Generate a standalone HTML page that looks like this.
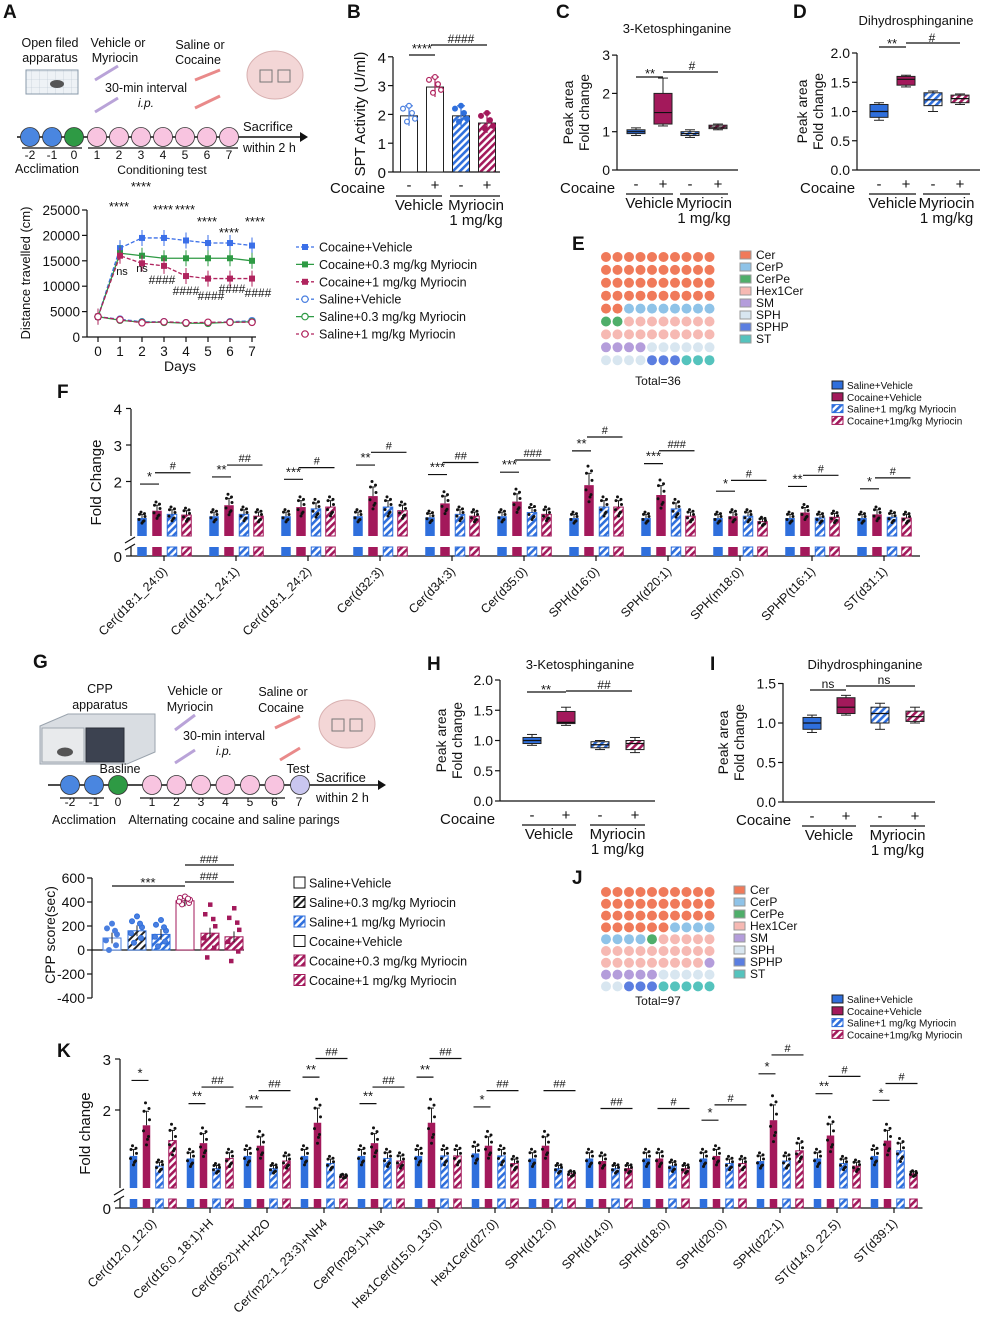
<!DOCTYPE html>
<html><head><meta charset="utf-8"><style>
html,body{margin:0;padding:0;background:#fff;}
svg{display:block;font-family:"Liberation Sans",Arial,sans-serif;}
</style></head><body>
<svg id="fig" width="982" height="1318" viewBox="0 0 982 1318" xmlns="http://www.w3.org/2000/svg">
<defs>
<pattern id="hb" patternUnits="userSpaceOnUse" width="5" height="5" patternTransform="rotate(45)"><rect width="5" height="5" fill="#fff"/><rect width="2.6" height="5" fill="#2f6fdc"/></pattern>
<pattern id="hr" patternUnits="userSpaceOnUse" width="5" height="5" patternTransform="rotate(45)"><rect width="5" height="5" fill="#fff"/><rect width="2.6" height="5" fill="#a3195b"/></pattern>
<pattern id="hk" patternUnits="userSpaceOnUse" width="5" height="5" patternTransform="rotate(45)"><rect width="5" height="5" fill="#fff"/><rect width="2" height="5" fill="#222"/></pattern>
<pattern id="grid" patternUnits="userSpaceOnUse" width="8" height="8"><rect width="8" height="8" fill="#eef2f6"/><path d="M8 0V8H0" fill="none" stroke="#b8c4d0" stroke-width="0.6"/></pattern>
</defs>
</svg>
<script>
const svg=document.getElementById('fig');
const NS='http://www.w3.org/2000/svg';
const BLUE='#2f6fdc',RED='#a3195b',GREEN='#2e9a44';
const FILLS=[BLUE,RED,'url(#hb)','url(#hr)'];
const STROKES=[BLUE,RED,BLUE,RED];

// ---------- data ----------
const aDays=[0,1,2,3,4,5,6,7];
const aCocVeh=[4000,17500,19500,19500,19000,18500,18500,18000];
const aCoc03=[4000,16500,16000,15500,15500,15500,15500,15000];
const aCoc1=[4000,16000,14500,14000,12000,11500,11500,11500];
const aSalVeh=[4000,3500,3000,3000,2800,2800,3000,3200];
const aSal03=[4000,3300,2900,2900,2700,2700,2900,3000];
const aSal1=[4000,3400,2800,3000,2800,2900,2900,2900];
const bVals=[1.95,2.95,1.95,1.7];
const cBox=[[0.95,1.0,1.05,0.9,1.1],[1.2,1.5,2.0,1.15,2.4],[0.9,0.95,1.0,0.85,1.05],[1.08,1.12,1.17,1.05,1.2]];
const dBox=[[0.9,1.0,1.12,0.85,1.15],[1.45,1.55,1.6,1.42,1.62],[1.1,1.2,1.32,1.0,1.35],[1.15,1.22,1.28,1.12,1.3]];
const hBox=[[0.95,1.0,1.05,0.92,1.1],[1.28,1.3,1.48,1.25,1.55],[0.88,0.93,0.98,0.85,1.0],[0.85,0.95,1.0,0.8,1.05]];
const iBox=[[0.92,1.0,1.07,0.88,1.1],[1.12,1.2,1.32,1.1,1.35],[1.0,1.12,1.2,0.92,1.25],[1.02,1.08,1.15,1.0,1.2]];
const eCounts=[42,8,2,18,4,10,3,3];
const jCounts=[36,8,1,24,6,7,3,5];
const lipidCats=['Cer','CerP','CerPe','Hex1Cer','SM','SPH','SPHP','ST'];
const lipidCols=['#f07a5a','#8fc3e8','#4fae6a','#f6b9b3','#b49ddb','#d8e6f0','#5b7ee0','#55c3bd'];
const fCats=['Cer(d18:1_24:0)','Cer(d18:1_24:1)','Cer(d18:1_24:2)','Cer(d32:3)','Cer(d34:3)','Cer(d35:0)','SPH(d16:0)','SPH(d20:1)','SPH(m18:0)','SPHP(t16:1)','ST(d31:1)'];
const fSalVeh=[1.0,1.05,1.05,1.05,1.02,1.05,1.0,1.0,1.0,1.0,1.0];
const fCocVeh=[1.2,1.35,1.3,1.6,1.4,1.45,1.9,1.63,1.05,1.15,1.1];
const fSal1=[1.1,1.1,1.25,1.3,1.1,1.15,1.3,1.25,1.05,1.0,1.02];
const fCoc1=[1.08,1.05,1.3,1.2,1.05,1.1,1.3,1.05,0.9,1.02,1.0];
const fStars=['*','**','***','**','***','***','**','***','*','**','*'];
const fHash=['#','##','#','#','##','###','#','###','#','#','#'];
const gVals=[100,160,130,410,140,110];
const kCats=['Cer(d12:0_12:0)','Cer(d16:0_18:1)+H','Cer(d36:2)+H-H2O','Cer(m22:1_23:3)+NH4','CerP(m29:1)+Na','Hex1Cer(d15:0_13:0)','Hex1Cer(d27:0)','SPH(d12:0)','SPH(d14:0)','SPH(d18:0)','SPH(d20:0)','SPH(d22:1)','ST(d14:0_22.5)','ST(d39:1)'];
const kSalVeh=[1.1,1.05,1.1,1.1,1.1,1.1,1.15,1.05,1.05,1.05,1.05,1.0,1.05,1.1];
const kCocVeh=[1.7,1.35,1.3,1.75,1.35,1.75,1.3,1.3,1.0,1.05,1.1,1.8,1.5,1.4];
const kSal1=[0.9,0.85,0.85,0.95,1.05,1.1,1.1,0.85,0.85,0.9,0.95,1.0,0.95,1.2];
const kCoc1=[1.4,1.05,1.0,0.7,1.0,1.1,0.95,0.75,0.85,0.85,0.95,1.2,0.9,0.75];
const kStars=['*','**','**','**','**','**','*','','','','*','*','**','*'];
const kHash=['','##','##','##','##','##','##','##','##','#','#','#','#','#'];

// ---------- helpers ----------
function mk(tag,attrs,name,parent){
  const e=document.createElementNS(NS,tag);
  for(const k in attrs)e.setAttribute(k,attrs[k]);
  
  
  (parent||svg).appendChild(e);return e;
}
function tx(x,y,s,size,name,anchor,extra){
  const a=Object.assign({x:x,y:y,'font-size':size,'text-anchor':anchor||'start',fill:'#111'},extra||{});
  const e=mk('text',a,name);e.textContent=s;return e;
}
function ln(x1,y1,x2,y2,name,c,w,extra){return mk('line',Object.assign({x1:x1,y1:y1,x2:x2,y2:y2,stroke:c||'#111','stroke-width':w||1.2},extra||{}),name);}
function rc(x,y,w,h,fill,name,stroke){return mk('rect',{x:x,y:y,width:w,height:h,fill:fill,stroke:stroke||'none','stroke-width':1},name);}
function ci(x,y,r,fill,name,stroke,sw){return mk('circle',{cx:x,cy:y,r:r,fill:fill,stroke:stroke||'none','stroke-width':sw||1},name);}
function letter(x,y,s){tx(x,y,s,19,'panel-label-'+s.toLowerCase(),'start',{'font-weight':'bold'});}
function rtext(x,y,s,size,name){tx(x,y,s,size,name,'end',{transform:'rotate(-45 '+x+' '+y+')'});}

// ---------- Panel A ----------
letter(3,18,'A');
tx(50,47,'Open filed',12.5,'a-open-field-label','middle');tx(50,62,'apparatus',12.5,'a-apparatus-label','middle');
rc(26,70,52,24,'url(#grid)','a-apparatus-box','#8899aa');
mk('ellipse',{cx:57,cy:84,rx:7,ry:4,fill:'#555'},'a-mouse');
tx(118,47,'Vehicle or',12.5,'a-vehicle-label','middle');tx(115,62,'Myriocin',12.5,'a-myriocin-label','middle');
tx(200,49,'Saline or',12.5,'a-saline-label','middle');tx(198,64,'Cocaine',12.5,'a-cocaine-label','middle');
tx(105,92,'30-min interval',12.5,'a-interval-label');tx(138,107,'i.p.',12,'a-ip-label','start',{'font-style':'italic'});
ln(95,80,118,66,'a-syringe-1','#b9a3d8',3);ln(95,112,118,98,'a-syringe-2','#b9a3d8',3);
ln(195,80,220,70,'a-syringe-3','#e98a8a',3);ln(195,108,220,96,'a-syringe-4','#e98a8a',3);
mk('ellipse',{cx:275,cy:75,rx:28,ry:24,fill:'#f3d6d6',stroke:'#d8b0b0'},'a-brain');
rc(260,70,12,12,'none','a-brain-roi-1','#777');rc(278,70,12,12,'none','a-brain-roi-2','#777');
ln(17,137,300,137,'a-timeline','#111',1.5);
mk('path',{d:'M300 132 L308 137 L300 142 Z',fill:'#111'},'a-timeline-arrow');
[30,52,74].forEach((x,i)=>ci(x,137,9.5,i<2?'#4a86e0':GREEN,'a-acclimation-day','#333',0.8));
for(let i=0;i<7;i++)ci(97+i*22,137,9.5,'#f8c4e0','a-conditioning-day','#333',0.8);
['-2','-1','0'].forEach((s,i)=>tx(30+i*22,159,s,12,'a-day-tick','middle'));
for(let i=0;i<7;i++)tx(97+i*22,159,String(i+1),12,'a-day-tick','middle');
ln(22,148,82,148,'a-acclimation-bracket');ln(88,148,238,148,'a-conditioning-bracket');
tx(47,173,'Acclimation',12.5,'a-acclimation-label','middle');tx(162,174,'Conditioning test',12,'a-conditioning-label','middle');
tx(243,131,'Sacrifice',13,'a-sacrifice-label');tx(243,152,'within 2 h',12.5,'a-within-label');

// A line chart
const aX=d=>98+d*22, aY=v=>337-v/25000*127;
ln(87,210,87,337,'a-y-axis');ln(87,337,256,337,'a-x-axis');
[0,5000,10000,15000,20000,25000].forEach(v=>{ln(82,aY(v),87,aY(v),'a-y-tick');tx(80,aY(v)+5,String(v),13.5,'a-y-tick-label','end');});
aDays.forEach(d=>{ln(aX(d),337,aX(d),342,'a-x-tick');tx(aX(d),356,String(d),13.5,'a-x-tick-label','middle');});
tx(180,371,'Days',14,'a-x-axis-title','middle');
tx(30,273,'Distance travelled (cm)',13,'a-y-axis-title','middle',{transform:'rotate(-90 30 273)'});
const aSeries=[[aCocVeh,'#3b6fe8','square',true],[aCoc03,GREEN,'square',false],[aCoc1,'#b0245e','square',true],[aSalVeh,'#4a7fe0','open',true],[aSal03,GREEN,'open',false],[aSal1,'#b0245e','open',true]];
aSeries.forEach((s,si)=>{
  const pts=aDays.map((d,i)=>aX(d)+','+aY(s[0][i])).join(' ');
  mk('polyline',{points:pts,fill:'none',stroke:s[1],'stroke-width':1.3,'stroke-dasharray':s[3]?'4,2':'none'},'a-series-line-'+si);
  aDays.forEach((d,i)=>{
    if(s[2]==='square'){ln(aX(d),aY(s[0][i])-8,aX(d),aY(s[0][i])+8,'a-error-bar',s[1],1);rc(aX(d)-3,aY(s[0][i])-3,6,6,s[1],'a-point');}
    else ci(aX(d),aY(s[0][i]),3.2,'#fff','a-point',s[1],1.2);
  });
});
[[119,211],[141,191],[163,214],[185,214],[207,226],[229,237],[255,226]].forEach(p=>tx(p[0],p[1],'****',13,'a-sig','middle'));
tx(122,275,'ns',11,'a-ns','middle');tx(142,272,'ns',11,'a-ns','middle');
[[162,284],[186,295],[211,300],[232,293],[258,297]].forEach(p=>tx(p[0],p[1],'####',12,'a-hash','middle'));
const aLeg=['Cocaine+Vehicle','Cocaine+0.3 mg/kg Myriocin','Cocaine+1 mg/kg Myriocin','Saline+Vehicle','Saline+0.3 mg/kg Myriocin','Saline+1 mg/kg Myriocin'];
aLeg.forEach((s,i)=>{const y=247+i*17.4,c=aSeries[i][1];
  ln(296,y,314,y,'a-legend-line',c,1.3,{'stroke-dasharray':aSeries[i][3]?'3,2':'none'});
  if(i<3)rc(302,y-3,6,6,c,'a-legend-marker');else ci(305,y,3.2,'#fff','a-legend-marker',c,1.2);
  tx(319,y+4.5,s,12.5,'a-legend-entry');});

// ---------- Panel B ----------
letter(347,18,'B');
const bY=v=>172-v*28.8;
ln(393,57,393,172,'b-y-axis');ln(393,172,500,172,'b-x-axis');
[0,1,2,3,4].forEach(v=>{ln(388,bY(v),393,bY(v),'b-y-tick');tx(386,bY(v)+6,String(v),15,'b-y-tick-label','end');});
tx(365,114,'SPT Activity (U/ml)',15,'b-y-axis-title','middle',{transform:'rotate(-90 365 114)'});
const bX=[409,435,461,487];
const bDotC=['#4a7fe0','#b0245e',BLUE,RED];
bVals.forEach((v,i)=>{
  rc(bX[i]-8.5,bY(v),17,172-bY(v),i<2?'#fff':FILLS[i],'b-bar','#222');
  ln(bX[i],bY(v)-10,bX[i],bY(v)+10,'b-error-bar',bDotC[i]);ln(bX[i]-4,bY(v)-10,bX[i]+4,bY(v)-10,'b-error-cap',bDotC[i]);
  [-6,-2,3,6,0].forEach((o,j)=>ci(bX[i]+o,bY(v+[0.25,-0.2,0.1,-0.1,0.35][j]),2.4,i<2?'#fff':bDotC[i],'b-dot',bDotC[i],1.2));
});
ln(409,55,435,55,'b-sig-line');tx(422,53,'****',13,'b-sig','middle');
ln(431,45,487,45,'b-hash-line');tx(461,43,'####',12,'b-hash','middle');
tx(330,193,'Cocaine',15,'b-cocaine-label');
bX.forEach((x,i)=>tx(x,190,i%2?'+':'-',15,'b-sign','middle'));
ln(396,196,442,196,'b-vehicle-bracket');ln(450,196,500,196,'b-myriocin-bracket');
tx(419,210,'Vehicle',15,'b-vehicle-label','middle');tx(476,210,'Myriocin',15,'b-myriocin-label','middle');tx(476,225,'1 mg/kg',15,'b-dose-label','middle');

// ---------- box plot panels ----------
function boxPanel(pre,ax,y0,yTop,ticks,unit,xs,data,tOff,tx0,ylab,fmt){
  const Y=v=>y0-v*unit;
  ln(ax,yTop,ax,y0,pre+'-y-axis');ln(ax,y0,xs[3]+20,y0,pre+'-x-axis');
  ticks.forEach(v=>{ln(ax-5,Y(v),ax,Y(v),pre+'-y-tick');tx(ax-7,Y(v)+5,fmt(v),14,pre+'-y-tick-label','end');});
  data.forEach((b,i)=>{
    ln(xs[i],Y(b[4]),xs[i],Y(b[3]),pre+'-whisker','#222',1);
    ln(xs[i]-5,Y(b[4]),xs[i]+5,Y(b[4]),pre+'-whisker-cap','#222',1);ln(xs[i]-5,Y(b[3]),xs[i]+5,Y(b[3]),pre+'-whisker-cap','#222',1);
    rc(xs[i]-9,Y(b[2]),18,Y(b[0])-Y(b[2]),FILLS[i],pre+'-box','#222');
    ln(xs[i]-9,Y(b[1]),xs[i]+9,Y(b[1]),pre+'-median','#111',1.2);
  });
  const my=(y0+yTop)/2;
  tx(ax-tOff,my,ylab[0],14,pre+'-y-axis-title','middle',{transform:'rotate(-90 '+(ax-tOff)+' '+my+')'});
  tx(ax-tOff+16,my,ylab[1],14,pre+'-y-axis-title-2','middle',{transform:'rotate(-90 '+(ax-tOff+16)+' '+my+')'});
  xs.forEach((x,i)=>tx(x,y0+19,i%2?'+':'-',15,pre+'-sign','middle'));
  ln(xs[0]-10,y0+24,xs[1]+10,y0+24,pre+'-vehicle-bracket');ln(xs[2]-10,y0+24,xs[3]+10,y0+24,pre+'-myriocin-bracket');
  tx((xs[0]+xs[1])/2,y0+38,'Vehicle',15,pre+'-vehicle-label','middle');
  tx((xs[2]+xs[3])/2,y0+38,'Myriocin',15,pre+'-myriocin-label','middle');tx((xs[2]+xs[3])/2,y0+53,'1 mg/kg',15,pre+'-dose-label','middle');
  tx(tx0,y0+23,'Cocaine',15,pre+'-cocaine-label');
  return Y;
}
letter(556,18,'C');tx(677,33,'3-Ketosphinganine',13,'c-title','middle');
boxPanel('c',617,170,55,[0,1,2,3],38.3,[636,663,690,718],cBox,44,560,['Peak area','Fold change'],v=>String(v));
ln(636,77,663,77,'c-sig-line');tx(650,78,'**',13,'c-sig','middle');ln(663,72,718,72,'c-hash-line');tx(692,70,'#',12,'c-hash','middle');
letter(793,18,'D');tx(916,25,'Dihydrosphinganine',13,'d-title','middle');
boxPanel('d',857,170,53,[0,0.5,1,1.5,2],58.5,[879,906,933,960],dBox,50,800,['Peak area','Fold change'],v=>v.toFixed(1));
ln(879,47,906,47,'d-sig-line');tx(892,48,'**',13,'d-sig','middle');ln(906,43,960,43,'d-hash-line');tx(932,42,'#',12,'d-hash','middle');
letter(427,670,'H');tx(580,669,'3-Ketosphinganine',13,'h-title','middle');
boxPanel('h',500,801,680,[0,0.5,1,1.5,2],60.5,[532,566,600,635],hBox,54,440,['Peak area','Fold change'],v=>v.toFixed(1));
ln(527,692,566,692,'h-sig-line');tx(546,694,'**',13,'h-sig','middle');ln(566,691,632,691,'h-hash-line');tx(604,689,'##',12,'h-hash','middle');
letter(710,670,'I');tx(865,669,'Dihydrosphinganine',13,'i-title','middle');
boxPanel('i',783,802,683,[0,0.5,1,1.5],79,[812,846,880,915],iBox,55,736,['Peak area','Fold change'],v=>v.toFixed(1));
ln(810,690,846,690,'i-sig-line');tx(828,688,'ns',12,'i-ns','middle');ln(846,686,915,686,'i-hash-line');tx(884,684,'ns',12,'i-ns','middle');

// ---------- dot grids ----------
function dotGrid(pre,x0,y0,dx,dy,counts,legX,legY,total,tY){
  let k=0;
  counts.forEach((c,ci_)=>{for(let j=0;j<c;j++){const r=Math.floor(k/10),col=k%10;ci(x0+col*dx,y0+r*dy,5,lipidCols[ci_],pre+'-dot-'+lipidCats[ci_].toLowerCase());k++;}});
  lipidCats.forEach((s,i)=>{rc(legX,legY+i*12-5,11,8,lipidCols[i],pre+'-legend-swatch','#999');tx(legX+16,legY+i*12+3,s,12,pre+'-legend-entry');});
  tx(x0+52,tY,total,12,pre+'-total','middle');
}
letter(572,250,'E');dotGrid('e',606,257,11.5,12.9,eCounts,740,256,'Total=36',385);
letter(572,884,'J');dotGrid('j',606,892,11.5,11.8,jCounts,734,891,'Total=97',1005);

// ---------- grouped bar charts with broken axis ----------
function grouped(pre,ax,yTop,y1,unit,baseY,stubTop,y0,c0,step,off,bw,cats,series,stars,hashes,ticks,ytitle,legY){
  const Y=v=>y1-(v-1)*unit;
  ln(ax,yTop,ax,baseY,pre+'-y-axis-upper');ln(ax,stubTop,ax,y0,pre+'-y-axis-lower');
  ln(ax-6,baseY+7,ax+4,baseY+1,pre+'-axis-break');ln(ax-6,stubTop+3,ax+4,stubTop-3,pre+'-axis-break');
  const xEnd=c0+step*(cats.length-1)+step/2;
  ln(ax,y0,xEnd,y0,pre+'-x-axis');
  ticks.forEach(v=>{ln(ax-5,Y(v),ax,Y(v),pre+'-y-tick');tx(ax-9,Y(v)+6,String(v),15,pre+'-y-tick-label','end');});
  ln(ax-5,y0,ax,y0,pre+'-y-tick');tx(ax-9,y0+6,'0',15,pre+'-y-tick-label','end');
  tx(ax-30,(yTop+baseY)/2+10,ytitle,15,pre+'-y-axis-title','middle',{transform:'rotate(-90 '+(ax-30)+' '+((yTop+baseY)/2+10)+')'});
  const jit=[[-2.5,0.25],[2,-0.2],[-1,0.4],[3,0.1],[0,-0.35],[-3,-0.1],[2.5,0.3],[1,-0.25]];
  cats.forEach((c,g)=>{
    const cx=c0+g*step;
    ln(cx,y0,cx,y0+5,pre+'-x-tick');
    rtext(cx+4,y0+16,c,12.5,pre+'-x-tick-label');
    let mx=0;
    series.forEach((s,i)=>{
      const v=s[g],x=cx+off[i],top=Math.min(Y(v),baseY-2);
      rc(x-bw/2,top,bw,baseY-top,FILLS[i],pre+'-bar-'+i,i>1?STROKES[i]:'none');
      rc(x-bw/2,stubTop,bw,y0-stubTop,FILLS[i],pre+'-bar-stub-'+i,i>1?STROKES[i]:'none');
      const e=(v-0.8)*0.25+0.05;
      ln(x,Y(v+e),x,Y(v),pre+'-error-bar','#222',1);ln(x-2.5,Y(v+e),x+2.5,Y(v+e),pre+'-error-cap','#222',1);
      jit.forEach(j=>{const yy=Y(v+j[1]*(v-0.6));if(yy<baseY)ci(x+j[0],yy,1.5,'#111',pre+'-dot');});
      mx=Math.max(mx,v+(v-0.6)*0.4);
    });
    const m12=Math.max(series[0][g],series[1][g]);
    if(stars[g]){const yl=Y(m12+(m12-0.6)*0.3+0.55);ln(cx+off[0]-2,yl,cx+off[1]+2,yl,pre+'-sig-line');tx((cx+off[0]+cx+off[1])/2,yl-3,stars[g],13,pre+'-sig','middle');}
    if(hashes[g]){const yl=Y(mx+0.8);ln(cx+off[1]-2,yl,cx+off[3]+4,yl,pre+'-hash-line');tx((cx+off[1]+cx+off[3])/2+1,yl-3,hashes[g],11,pre+'-hash','middle');}
  });
  const leg=['Saline+Vehicle','Cocaine+Vehicle','Saline+1 mg/kg Myriocin','Cocaine+1mg/kg Myriocin'];
  leg.forEach((s,i)=>{rc(832,legY+i*11.8-7,11,8,FILLS[i],pre+'-legend-swatch',i>1?STROKES[i]:'#222');tx(847,legY+i*11.8+1,s,10,pre+'-legend-entry');});
}
letter(57,398,'F');
grouped('f',131,409,518,36.5,536,547,556,164,72,[-22,-7,8,22.5],9.5,fCats,[fSalVeh,fCocVeh,fSal1,fCoc1],fStars,fHash,[2,3,4],'Fold Change',388);
letter(57,1057,'K');
grouped('k',120,1059,1161,51,1188,1199,1208,153,57,[-19.5,-6.5,6.5,19.5],7.5,kCats,[kSalVeh,kCocVeh,kSal1,kCoc1],kStars,kHash,[2,3],'Fold change',1002);

// ---------- Panel G ----------
letter(33,668,'G');
tx(100,693,'CPP',12.5,'g-cpp-label','middle');tx(100,709,'apparatus',12.5,'g-apparatus-label','middle');
mk('path',{d:'M40 726 L68 714 L155 714 L155 752 L127 764 L40 764 Z',fill:'#d9dde2',stroke:'#9aa3ad'},'g-cpp-box');
rc(42,728,42,34,'#e8eaec','g-cpp-left','#a0a8b0');rc(86,728,38,34,'#3c4250','g-cpp-right','#2a2e38');
mk('ellipse',{cx:65,cy:752,rx:8,ry:4.5,fill:'#555'},'g-mouse');
tx(195,695,'Vehicle or',12.5,'g-vehicle-label','middle');tx(190,711,'Myriocin',12.5,'g-myriocin-label','middle');
tx(283,696,'Saline or',12.5,'g-saline-label','middle');tx(281,712,'Cocaine',12.5,'g-cocaine-label','middle');
tx(183,740,'30-min interval',12.5,'g-interval-label');tx(216,755,'i.p.',12,'g-ip-label','start',{'font-style':'italic'});
ln(175,730,195,715,'g-syringe-1','#b9a3d8',3);ln(175,763,195,750,'g-syringe-2','#b9a3d8',3);
ln(275,728,300,716,'g-syringe-3','#e98a8a',3);ln(280,760,300,748,'g-syringe-4','#e98a8a',3);
mk('ellipse',{cx:347,cy:724,rx:28,ry:24,fill:'#f3d6d6',stroke:'#d8b0b0'},'g-brain');
rc(332,719,12,12,'none','g-brain-roi-1','#777');rc(350,719,12,12,'none','g-brain-roi-2','#777');
ln(48,785,380,785,'g-timeline','#111',1.5);
mk('path',{d:'M378 780 L386 785 L378 790 Z',fill:'#111'},'g-timeline-arrow');
[70,94,118].forEach((x,i)=>ci(x,785,9.5,i<2?'#4a86e0':GREEN,'g-baseline-day','#333',0.8));
for(let i=0;i<6;i++)ci(152+i*24.5,785,9.5,'#f8c4e0','g-pairing-day','#333',0.8);
ci(300,785,9.5,'#c9c6ef','g-test-day','#333',0.8);
tx(120,773,'Basline',12.5,'g-baseline-label','middle');tx(298,773,'Test',12.5,'g-test-label','middle');
['-2','-1','0'].forEach((s,i)=>tx(70+i*24,806,s,12,'g-day-tick','middle'));
for(let i=0;i<7;i++)tx(152+i*24.5,806,String(i+1),12,'g-day-tick','middle');
ln(60,798,104,798,'g-acclimation-bracket');ln(140,798,285,798,'g-pairing-bracket');
tx(84,824,'Acclimation',12.5,'g-acclimation-label','middle');tx(234,824,'Alternating cocaine and saline parings',12.5,'g-pairing-label','middle');
tx(316,782,'Sacrifice',13,'g-sacrifice-label');tx(316,802,'within 2 h',12.5,'g-within-label');
// G bar chart
const gY=v=>950-v*0.12;
ln(92,878,92,998,'g-y-axis');ln(92,950,244,950,'g-zero-line');
[600,400,200,0,-200,-400].forEach(v=>{ln(87,gY(v),92,gY(v),'g-y-tick');tx(85,gY(v)+5,String(v),14,'g-y-tick-label','end');});
tx(55,935,'CPP score(sec)',14,'g-y-axis-title','middle',{transform:'rotate(-90 55 935)'});
const gX=[112,137,161,185,210,234];
const gFill=['#fff','url(#hk)','url(#hb)','#fff','url(#hr)','url(#hr)'];
const gStroke=['#4a7fe0',BLUE,BLUE,RED,RED,RED];
const gJit=[[-5,80],[4,-60],[0,120],[-3,-100],[5,30],[-6,-20],[3,60]];
gVals.forEach((v,i)=>{
  rc(gX[i]-9,Math.min(gY(v),950),18,Math.abs(gY(v)-950),gFill[i],'g-bar',gStroke[i]);
  ln(gX[i],gY(v+45),gX[i],gY(v-45),'g-error-bar','#222',1);
  gJit.forEach(j=>{if(i<=3)ci(gX[i]+j[0],gY(v+j[1]*(i==3?0.3:1)),2.5,i==3?'#fff':'#4a7fe0','g-dot',gStroke[i],1);else rc(gX[i]+j[0]-2,gY(v+j[1]*2)-2,4.5,4.5,RED,'g-dot');});
});
ln(112,886,185,886,'g-sig-line');tx(148,887,'***',13,'g-sig','middle');
ln(185,882,234,882,'g-hash-line');tx(209,880,'###',11,'g-hash','middle');
ln(185,865,234,865,'g-hash-line-2');tx(209,863,'###',11,'g-hash-2','middle');
const gLeg=['Saline+Vehicle','Saline+0.3 mg/kg Myriocin','Saline+1 mg/kg Myriocin','Cocaine+Vehicle','Cocaine+0.3 mg/kg Myriocin','Cocaine+1 mg/kg Myriocin'];
const gLegFill=['#fff','url(#hk)','url(#hb)','#fff','url(#hr)','url(#hr)'];
const gLegStroke=['#111','#111',BLUE,'#111',RED,RED];
gLeg.forEach((s,i)=>{const y=883+i*19.5;rc(294,y-6,11,11,gLegFill[i],'g-legend-swatch',gLegStroke[i]);tx(309,y+4.5,s,12.5,'g-legend-entry');});
</script>
</body></html>
